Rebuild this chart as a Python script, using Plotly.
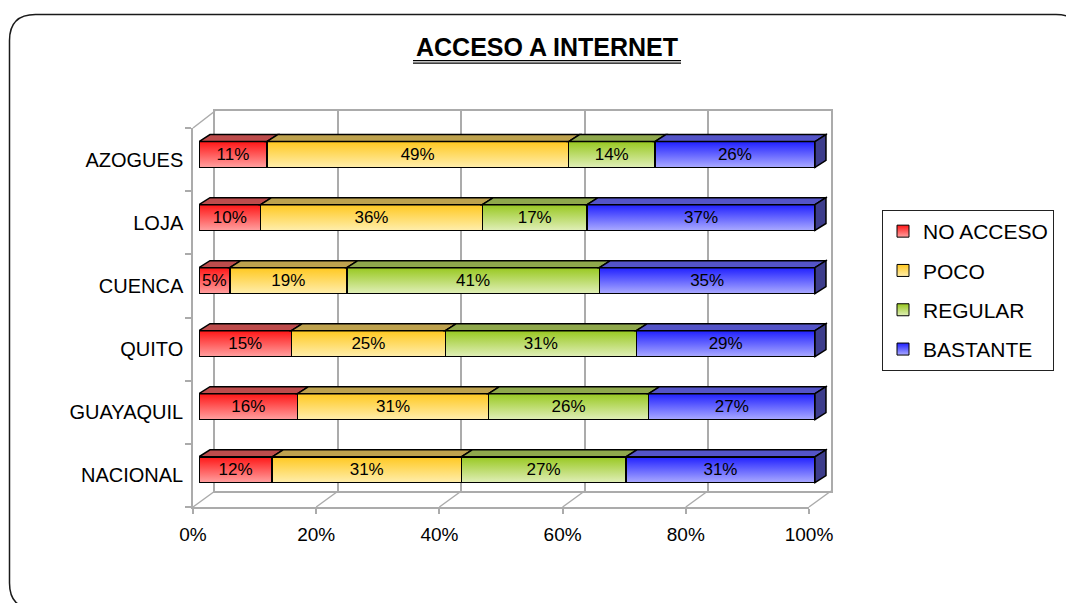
import plotly.graph_objects as go

# ---------------- data ----------------
categories = ["NACIONAL", "GUAYAQUIL", "QUITO", "CUENCA", "LOJA", "AZOGUES"]
series_names = ["NO ACCESO", "POCO", "REGULAR", "BASTANTE"]
no_acceso = [12, 16, 15, 5, 10, 11]
poco = [31, 31, 25, 19, 36, 49]
regular = [27, 26, 31, 41, 17, 14]
bastante = [31, 27, 29, 35, 37, 26]
x_ticks = [0, 20, 40, 60, 80, 100]
x_tick_labels = ["0%", "20%", "40%", "60%", "80%", "100%"]
title_text = "ACCESO A INTERNET"

series_values = [no_acceso, poco, regular, bastante]

# ---------------- styling ----------------
FONT = "Liberation Sans, Arial, sans-serif"
grad_dark = ["#ff1616", "#ffc820", "#98c820", "#2020ff"]
grad_light = ["#ffa0a0", "#ffeeac", "#e0efb8", "#aaaaff"]
mid_colors = ["#ff5a5a", "#ffdb66", "#bcdc6c", "#6565ff"]
top_colors = ["#bd4c4c", "#bea24e", "#8fa84c", "#5454c8"]
side_color = "#3d3d8c"
wall_color = "#ababab"

# the page body margin offsets the figure by 8px
OFF = 8
W, H = 1074, 603


def px(x):
    return (x - OFF) / W


def py(y):
    return 1 - (y - OFF) / H


# subplot domains in window pixels
BAR_X = (199, 827.3)      # x range 0..102
BAR_Y = (116.7, 507.5)    # y range -0.6..5.6
WALL_X = (215, 831)
WALL_Y = (111, 491)
FRONT_X = (193, 809)
FRONT_Y = (128, 507)

bar_xrange = [0, 102]
bar_yrange = [-0.6, 5.6]
bar_w = 0.41
px_per_x = (BAR_X[1] - BAR_X[0]) / (bar_xrange[1] - bar_xrange[0])
px_per_y = (BAR_Y[1] - BAR_Y[0]) / (bar_yrange[1] - bar_yrange[0])
dx = 11 / px_per_x
dy = 7 / px_per_y

positions = list(range(len(categories)))
totals = [sum(s[i] for s in series_values) for i in positions]

fig = go.Figure()

# empty helper traces so the wall and front-edge subplots are created
for xa, ya in (("x", "y"), ("x3", "y3")):
    fig.add_trace(go.Scatter(x=[], y=[], xaxis=xa, yaxis=ya, showlegend=False,
                             hoverinfo="skip"))

shapes = []

# gradient front faces (subplot x2/y2, drawn beneath the bar outlines/text)
# plus 3D top faces and right side faces, all computed from normalized data
for i in positions:
    cum = 0.0
    yb = i - bar_w / 2
    yt = i + bar_w / 2
    for j, vals in enumerate(series_values):
        v = vals[i] / totals[i] * 100
        x0, x1 = cum, cum + v
        fig.add_trace(go.Scatter(
            x=[x0, x1, x1, x0, x0], y=[yb, yb, yt, yt, yb],
            mode="lines", line=dict(width=0), fill="toself",
            fillgradient=dict(type="vertical",
                              colorscale=[[0, grad_light[j]], [1, grad_dark[j]]]),
            showlegend=False, hoverinfo="skip", xaxis="x2", yaxis="y2"))
        path = (f"M {x0},{yt} L {x0 + dx},{yt + dy} L {x1 + dx},{yt + dy} "
                f"L {x1},{yt} Z")
        shapes.append(dict(type="path", path=path, xref="x4", yref="y4",
                           fillcolor=top_colors[j],
                           line=dict(color="black", width=1.5)))
        cum = x1
    path = (f"M {cum},{yb} L {cum + dx},{yb + dy} L {cum + dx},{yt + dy} "
            f"L {cum},{yt} Z")
    shapes.append(dict(type="path", path=path, xref="x4", yref="y4",
                       fillcolor=side_color,
                       line=dict(color="black", width=1.5)))

# bars: outlines + value labels (subplot x4/y4 on top)
for name, vals in zip(series_names, series_values):
    fig.add_trace(go.Bar(
        y=positions, x=vals, orientation="h", name=name,
        width=bar_w,
        marker=dict(color="rgba(0,0,0,0)", line=dict(color="black", width=1.5)),
        text=vals, texttemplate="%{text}%", textposition="inside",
        insidetextanchor="middle", textangle=0,
        textfont=dict(family=FONT, size=17, color="black"),
        customdata=categories,
        hovertemplate="%{customdata}: %{text}%<extra>" + name + "</extra>",
        xaxis="x4", yaxis="y4", showlegend=False,
    ))

# legend entries
for name, dark, light in zip(series_names, grad_dark, grad_light):
    fig.add_trace(go.Scatter(
        x=[None], y=[None], mode="markers", name=name, legendgroup=name,
        marker=dict(symbol="square", size=12, color=dark,
                    gradient=dict(type="vertical", color=light),
                    line=dict(color="black", width=1)),
        xaxis="x2", yaxis="y2", hoverinfo="skip"))

# floor diagonals joining front axis ticks to back wall gridlines
for t in x_ticks:
    fx = FRONT_X[0] + (FRONT_X[1] - FRONT_X[0]) * t / 100
    bx = WALL_X[0] + (WALL_X[1] - WALL_X[0]) * t / 100
    shapes.append(dict(type="line", xref="paper", yref="paper",
                       x0=px(fx), y0=py(FRONT_Y[1]), x1=px(bx), y1=py(WALL_Y[1]),
                       line=dict(color=wall_color, width=1.5), layer="below"))
# top-left wall diagonal
shapes.append(dict(type="line", xref="paper", yref="paper",
                   x0=px(FRONT_X[0]), y0=py(FRONT_Y[0]),
                   x1=px(WALL_X[0]), y1=py(WALL_Y[0]),
                   line=dict(color=wall_color, width=1.5), layer="below"))

# title underline (double)
for yy in (60.6, 63.2):
    shapes.append(dict(type="line", xref="paper", yref="paper",
                       x0=px(413), x1=px(681), y0=py(yy), y1=py(yy),
                       line=dict(color="black", width=1.3)))


# rounded outer border
def rounded_rect(x0, y0, x1, y1, r):
    pts = [
        ("M", [(x0 + r, y0)]),
        ("L", [(x1 - r, y0)]),
        ("Q", [(x1, y0), (x1, y0 + r)]),
        ("L", [(x1, y1 - r)]),
        ("Q", [(x1, y1), (x1 - r, y1)]),
        ("L", [(x0 + r, y1)]),
        ("Q", [(x0, y1), (x0, y1 - r)]),
        ("L", [(x0, y0 + r)]),
        ("Q", [(x0, y0), (x0 + r, y0)]),
    ]
    s = ""
    for cmd, ps in pts:
        s += cmd + " " + " ".join(f"{px(a):.5f},{py(b):.5f}" for a, b in ps) + " "
    return s + "Z"


shapes.append(dict(type="path", xref="paper", yref="paper",
                   path=rounded_rect(9.5, 14.5, 1082, 609, 26),
                   line=dict(color="#1a1a1a", width=1.5), layer="below"))

bar_x_axis = dict(domain=[px(BAR_X[0]), px(BAR_X[1])], range=bar_xrange,
                  visible=False, fixedrange=True, automargin=False)
bar_y_axis = dict(domain=[py(BAR_Y[1]), py(BAR_Y[0])], range=bar_yrange,
                  visible=False, fixedrange=True, automargin=False)

fig.update_layout(
    width=W, height=H, autosize=False,
    margin=dict(l=0, r=0, t=0, b=0, pad=0, autoexpand=False),
    paper_bgcolor="white", plot_bgcolor="rgba(0,0,0,0)",
    barmode="stack", barnorm="percent",
    font=dict(family=FONT, size=19, color="black"),
    showlegend=True,
    legend=dict(x=px(882), y=py(210), xanchor="left", yanchor="top",
                bordercolor="#222222", borderwidth=1, bgcolor="white",
                font=dict(family=FONT, size=21, color="black"),
                traceorder="grouped", tracegroupgap=9),
    shapes=shapes,
    annotations=[dict(text="<b>" + title_text + "</b>", xref="paper", yref="paper",
                      x=px(547), y=py(47), xanchor="center", yanchor="middle",
                      showarrow=False,
                      font=dict(family=FONT, size=25, color="black"))],
    # back wall
    xaxis=dict(domain=[px(WALL_X[0]), px(WALL_X[1])], range=[0, 100],
               anchor="y", showgrid=True, gridcolor=wall_color, gridwidth=1.5,
               tickmode="array", tickvals=x_ticks, showticklabels=False, ticks="",
               showline=True, mirror=True, linecolor=wall_color, linewidth=1.5,
               zeroline=False, fixedrange=True, automargin=False),
    yaxis=dict(domain=[py(WALL_Y[1]), py(WALL_Y[0])], range=[0, 1],
               anchor="x", showgrid=False, showticklabels=False, ticks="",
               showline=True, mirror=True, linecolor=wall_color, linewidth=1.5,
               zeroline=False, fixedrange=True, automargin=False),
    # gradient faces
    xaxis2=dict(bar_x_axis, anchor="y2"),
    yaxis2=dict(bar_y_axis, anchor="x2"),
    # bars (outlines + labels)
    xaxis4=dict(bar_x_axis, anchor="y4"),
    yaxis4=dict(bar_y_axis, anchor="x4"),
    # front edges with tick labels
    xaxis3=dict(domain=[px(FRONT_X[0]), px(FRONT_X[1])], range=[0, 100],
                anchor="y3", showgrid=False, zeroline=False,
                tickmode="array", tickvals=x_ticks, ticktext=x_tick_labels,
                ticks="outside", ticklen=5, tickcolor=wall_color, tickwidth=1.5,
                showline=True, linecolor=wall_color, linewidth=1.5,
                tickfont=dict(family=FONT, size=19, color="black"),
                ticklabelstandoff=4, fixedrange=True, automargin=False),
    yaxis3=dict(domain=[py(FRONT_Y[1]), py(FRONT_Y[0])],
                range=[positions[0] - 0.5, positions[-1] + 0.5],
                anchor="x3", showgrid=False, zeroline=False,
                tickmode="array", tickvals=positions, ticktext=categories,
                ticks="",
                minor=dict(ticks="outside", ticklen=6, tickcolor=wall_color,
                           tickwidth=1.5, tickmode="array",
                           tickvals=[p - 0.5 for p in positions] + [positions[-1] + 0.5],
                           showgrid=False),
                showline=True, linecolor=wall_color, linewidth=1.5,
                tickfont=dict(family=FONT, size=20, color="black"),
                ticklabelstandoff=4, fixedrange=True, automargin=False),
)

fig.write_html("out.html")
